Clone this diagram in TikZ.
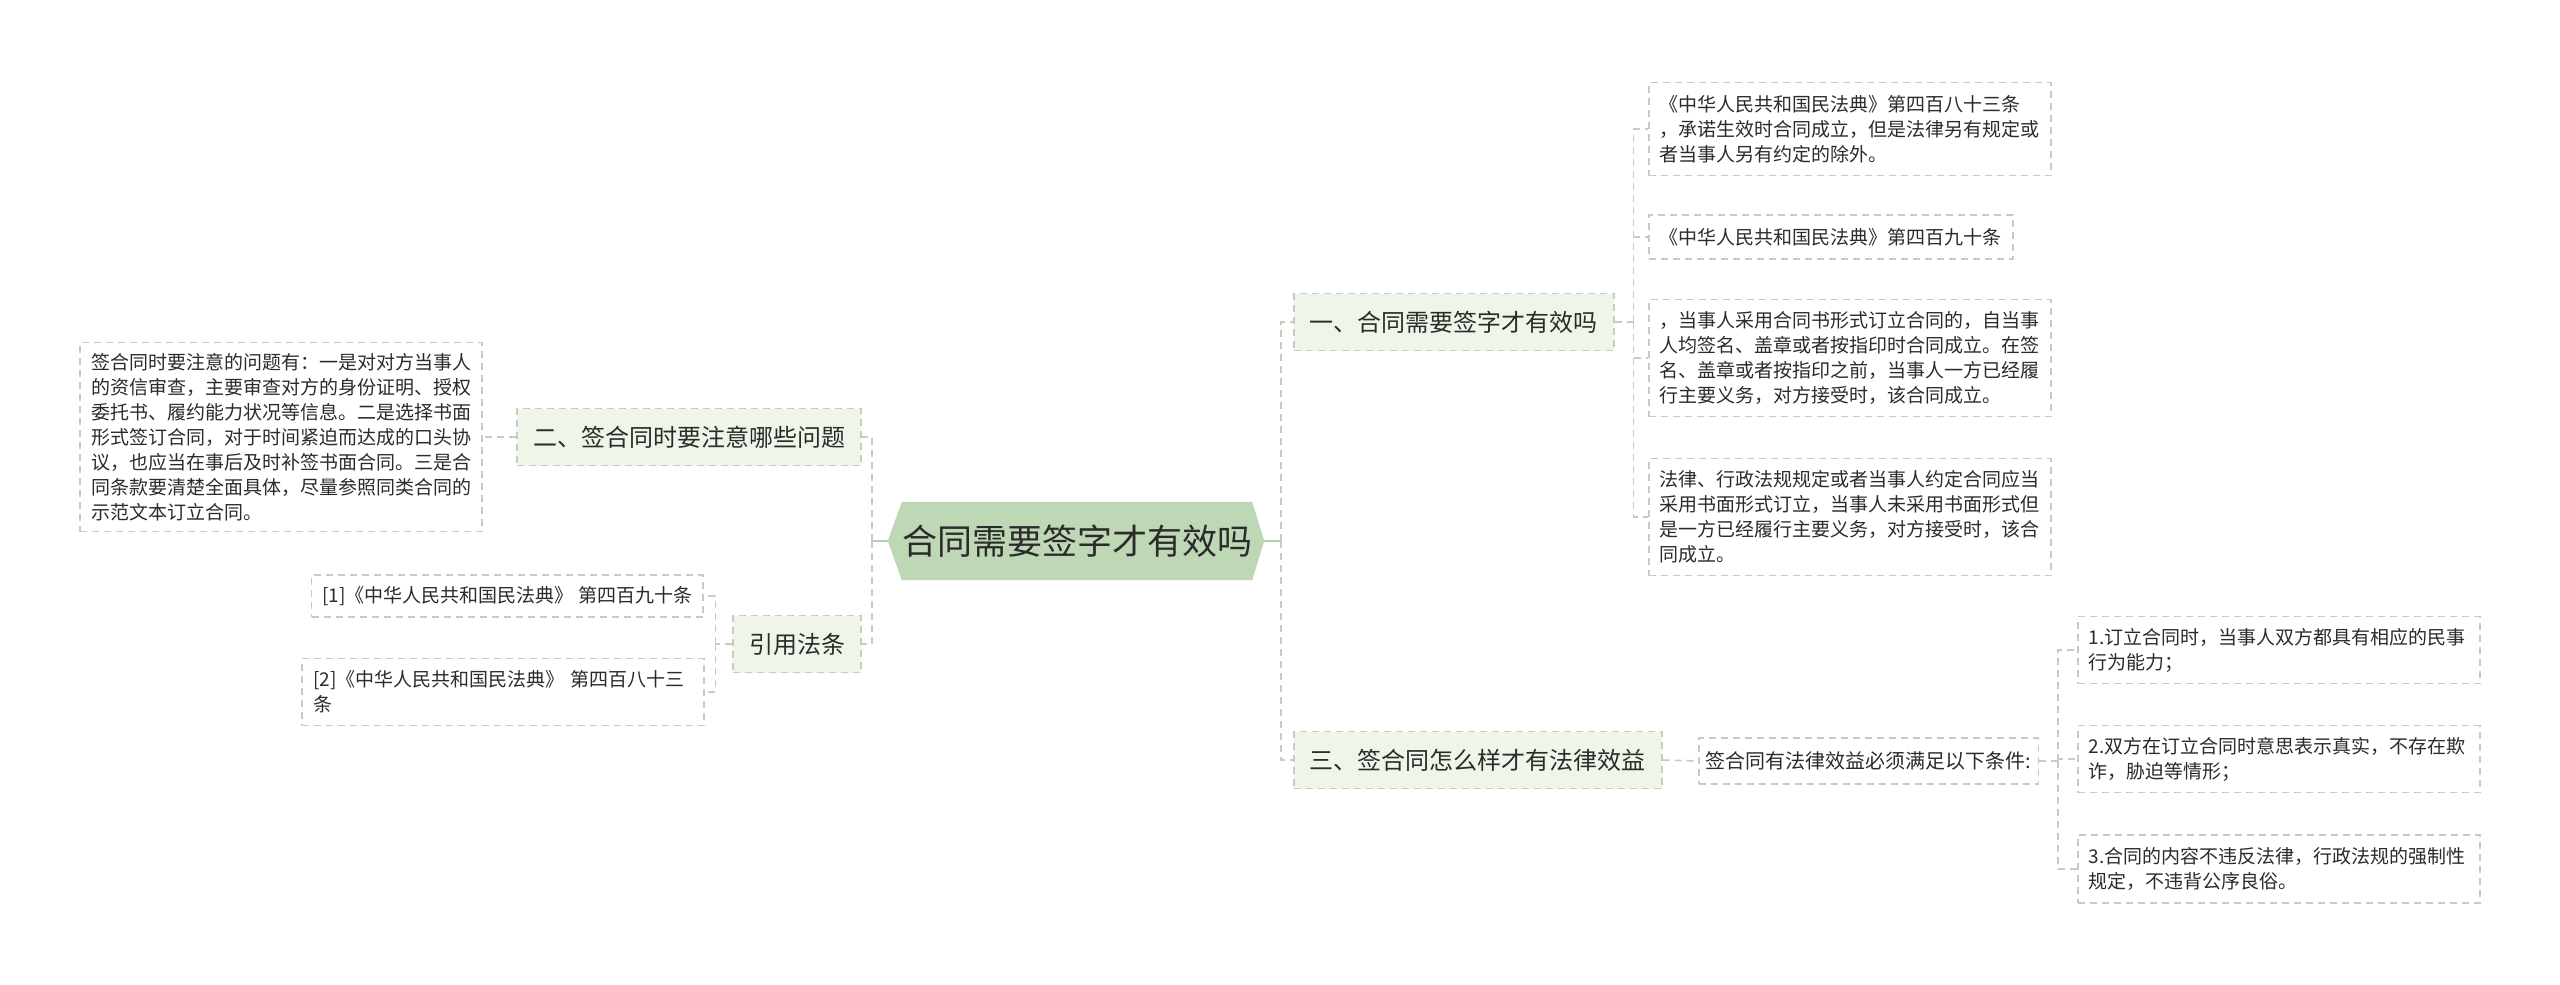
\documentclass[tikz,border=0pt]{standalone}
\usepackage{fontspec}
\newfontfamily\cjk{Noto Sans CJK SC}
\usetikzlibrary{backgrounds}
\definecolor{rootfill}{HTML}{BED7B5}
\definecolor{topicfill}{HTML}{EFF6E9}
\definecolor{edge}{HTML}{C6CCC2}
\definecolor{rootedge}{HTML}{B4CDAA}
\definecolor{ink}{HTML}{2B2B2B}

\begin{document}
\begin{tikzpicture}[x=1pt,y=-1pt,
	root/.style={ inner sep=0pt, minimum width=337pt, minimum height=78pt, text=ink, font=\cjk\fontsize{35}{40}\selectfont },
	topic/.style={ draw=edge, line width=1.6pt, dash pattern=on 7pt off 5pt, fill=topicfill, text=ink, inner xsep=16pt, inner ysep=0pt, minimum height=57pt, font=\cjk\fontsize{24}{28}\selectfont },
	leaf/.style={ draw=edge, line width=1.6pt, dash pattern=on 7pt off 5pt, fill=white, text=ink, inner xsep=11pt, inner ysep=0pt, font=\cjk\fontsize{19}{25}\selectfont },
	wide/.style={ leaf, text width=380pt, align=left },
	link/.style={ draw=edge, line width=1.6pt, dash pattern=on 7pt off 5pt },
	rootlink/.style={ draw=rootedge, line width=2pt }
]
\useasboundingbox (0,0) rectangle (2560,985);

% centre
\node[root] (root) at (1077,541) {合同需要签字才有效吗};
\begin{scope}[on background layer]
\fill[white] (0,0) rectangle (2560,985);
\fill[rootfill] (root.north west) -- (root.north east) -- ([xshift=12pt]root.east)
  -- (root.south east) -- (root.south west) -- ([xshift=-14pt]root.west) -- cycle;
\end{scope}

% main topics
\node[topic,anchor=west] (b1) at (1293,322) {一、合同需要签字才有效吗};
\node[topic,anchor=west] (b3) at (1293,760) {三、签合同怎么样才有法律效益};
\node[topic,anchor=east] (b2) at (862,437) {二、签合同时要注意哪些问题};
\node[topic,anchor=east] (b4) at (862,644) {引用法条};

% topic one
\node[wide,anchor=west,minimum height=93pt] (la) at (1648,129)
  {《中华人民共和国民法典》第四百八十三条\\，承诺生效时合同成立，但是法律另有规定或\\者当事人另有约定的除外。};
\node[leaf,anchor=west,minimum height=44pt] (lb) at (1648,237)
  {《中华人民共和国民法典》第四百九十条};
\node[wide,anchor=west,minimum height=117pt] (lc) at (1648,358)
  {，当事人采用合同书形式订立合同的，自当事\\人均签名、盖章或者按指印时合同成立。在签\\名、盖章或者按指印之前，当事人一方已经履\\行主要义务，对方接受时，该合同成立。};
\node[wide,anchor=west,minimum height=117pt] (ld) at (1648,517)
  {法律、行政法规规定或者当事人约定合同应当\\采用书面形式订立，当事人未采用书面形式但\\是一方已经履行主要义务，对方接受时，该合\\同成立。};

% topic three
\node[leaf,anchor=west,inner xsep=7pt,minimum height=46pt,font=\cjk\fontsize{20}{25}\selectfont] (cond) at (1698,761)
  {签合同有法律效益必须满足以下条件:};
\node[wide,anchor=west,minimum height=67pt] (le) at (2077,650)
  {1.订立合同时，当事人双方都具有相应的民事\\行为能力；};
\node[wide,anchor=west,minimum height=67pt] (lf) at (2077,759)
  {2.双方在订立合同时意思表示真实，不存在欺\\诈，胁迫等情形；};
\node[wide,anchor=west,minimum height=68pt] (lg) at (2077,869)
  {3.合同的内容不违反法律，行政法规的强制性\\规定，不违背公序良俗。};

% topic two
\node[wide,anchor=east,minimum height=189pt] (tips) at (483,437)
  {签合同时要注意的问题有：一是对对方当事人\\的资信审查，主要审查对方的身份证明、授权\\委托书、履约能力状况等信息。二是选择书面\\形式签订合同，对于时间紧迫而达成的口头协\\议，也应当在事后及时补签书面合同。三是合\\同条款要清楚全面具体，尽量参照同类合同的\\示范文本订立合同。};

% references
\node[leaf,anchor=east,minimum height=42pt] (r1) at (704,596)
  {[1]《中华人民共和国民法典》 第四百九十条};
\node[wide,anchor=east,minimum height=67pt] (r2) at (705,692)
  {[2]《中华人民共和国民法典》 第四百八十三\\条};

% connectors
\draw[rootlink] ([xshift=12pt]root.east) -- ++(17,0) coordinate (rj);
\draw[link] (rj) |- (b1.west);
\draw[link] (rj) |- (b3.west);
\draw[rootlink] ([xshift=-14pt]root.west) -- ++(-16,0) coordinate (lj);
\draw[link] (lj) |- (b2.east);
\draw[link] (lj) |- (b4.east);

\draw[link] (b1.east) -- ++(19,0) coordinate (j1);
\foreach \n in {la,lb,lc,ld}
  \draw[link] (j1) |- (\n.west);

\draw[link] (b3.east) -- (cond.west);
\draw[link] (cond.east) -- ++(19,0) coordinate (j3);
\foreach \n in {le,lf,lg}
  \draw[link] (j3) |- (\n.west);

\draw[link] (b2.west) -- (tips.east);

\draw[link] (b4.west) -- ++(-17,0) coordinate (j4);
\foreach \n in {r1,r2}
  \draw[link] (j4) |- (\n.east);

\end{tikzpicture}
\end{document}
